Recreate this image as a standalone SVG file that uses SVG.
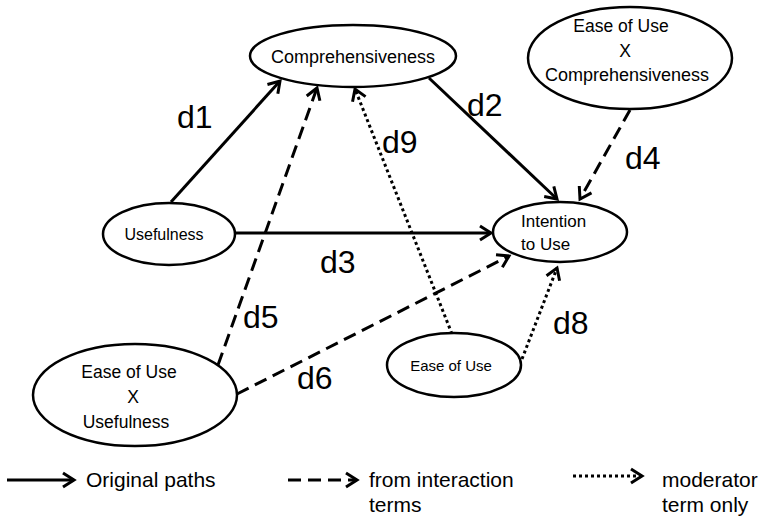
<svg xmlns="http://www.w3.org/2000/svg" width="765" height="517" viewBox="0 0 765 517">
<style>
.node ellipse{fill:#fff;stroke:#000;stroke-width:2.5}
text{font-family:"Liberation Sans",Arial,sans-serif;fill:#000}
.edge{fill:none;stroke:#000;stroke-width:3}
.dash{stroke-dasharray:13 7}
.dot{stroke-dasharray:3 3}
.lbl{font-size:32px}
.leg{font-size:21px}
</style>
<defs>
<marker id="ah" viewBox="-13 -9 15 18" refX="0" refY="0" markerWidth="15" markerHeight="18" markerUnits="userSpaceOnUse" orient="auto" overflow="visible">
<path d="M-11,-7 L0,0 L-11,7" fill="none" stroke="#000" stroke-width="3"/>
</marker>
</defs>
<rect width="765" height="517" fill="#fff"/>
<g id="connectors">
<path class="edge" d="M171,202 L280,81" marker-end="url(#ah)"/>
<path class="edge" d="M429,78 L557,199" marker-end="url(#ah)"/>
<path class="edge" d="M235,233 L491,233" marker-end="url(#ah)"/>
<path class="edge dash" d="M630,110 L580,199" marker-end="url(#ah)"/>
<path class="edge dash" d="M218,365 L317,88" marker-end="url(#ah)"/>
<path class="edge dash" d="M237,394 L509,256" marker-end="url(#ah)"/>
<path class="edge dot" d="M452,334 L355,89" marker-end="url(#ah)"/>
<path class="edge dot" d="M522,359 L557,268" marker-end="url(#ah)"/>
</g>
<g id="edge-labels" class="lbl">
<text x="177" y="128">d1</text>
<text x="467" y="116">d2</text>
<text x="320" y="273">d3</text>
<text x="625" y="169">d4</text>
<text x="243" y="328">d5</text>
<text x="297" y="389">d6</text>
<text x="553" y="334">d8</text>
<text x="382" y="153">d9</text>
</g>
<g id="comprehensiveness" class="node">
<ellipse cx="353" cy="56" rx="103" ry="31"/>
<text x="353" y="63" font-size="18" text-anchor="middle">Comprehensiveness</text>
</g>
<g id="usefulness" class="node">
<ellipse cx="169" cy="234" rx="66" ry="31"/>
<text x="164" y="240" font-size="16" text-anchor="middle">Usefulness</text>
</g>
<g id="intention" class="node">
<ellipse cx="560" cy="232" rx="67" ry="30"/>
<text x="521" y="227" font-size="17">Intention</text>
<text x="521" y="250" font-size="17">to Use</text>
</g>
<g id="eou-x-comp" class="node">
<ellipse cx="630" cy="58" rx="102" ry="51"/>
<text x="621" y="32" font-size="17.5" text-anchor="middle">Ease of Use</text>
<text x="625" y="57" font-size="17.5" text-anchor="middle">X</text>
<text x="627" y="81" font-size="18" text-anchor="middle">Comprehensiveness</text>
</g>
<g id="eou-x-usefulness" class="node">
<ellipse cx="135" cy="395" rx="102" ry="51"/>
<text x="129" y="378" font-size="17.5" text-anchor="middle">Ease of Use</text>
<text x="133" y="403" font-size="17.5" text-anchor="middle">X</text>
<text x="126" y="428" font-size="17.5" text-anchor="middle">Usefulness</text>
</g>
<g id="ease-of-use" class="node">
<ellipse cx="454" cy="365" rx="67" ry="32"/>
<text x="451" y="371" font-size="15" text-anchor="middle">Ease of Use</text>
</g>
<g id="legend">
<path class="edge" d="M7,480 L74,480" marker-end="url(#ah)"/>
<text class="leg" x="86" y="487">Original paths</text>
<path class="edge dash" d="M288,480 L357,480" marker-end="url(#ah)"/>
<text class="leg" x="369" y="487">from interaction</text>
<text class="leg" x="369" y="512">terms</text>
<path class="edge dot" d="M573,476 L642,476" marker-end="url(#ah)"/>
<text class="leg" x="662" y="487">moderator</text>
<text class="leg" x="662" y="512">term only</text>
</g>
</svg>
